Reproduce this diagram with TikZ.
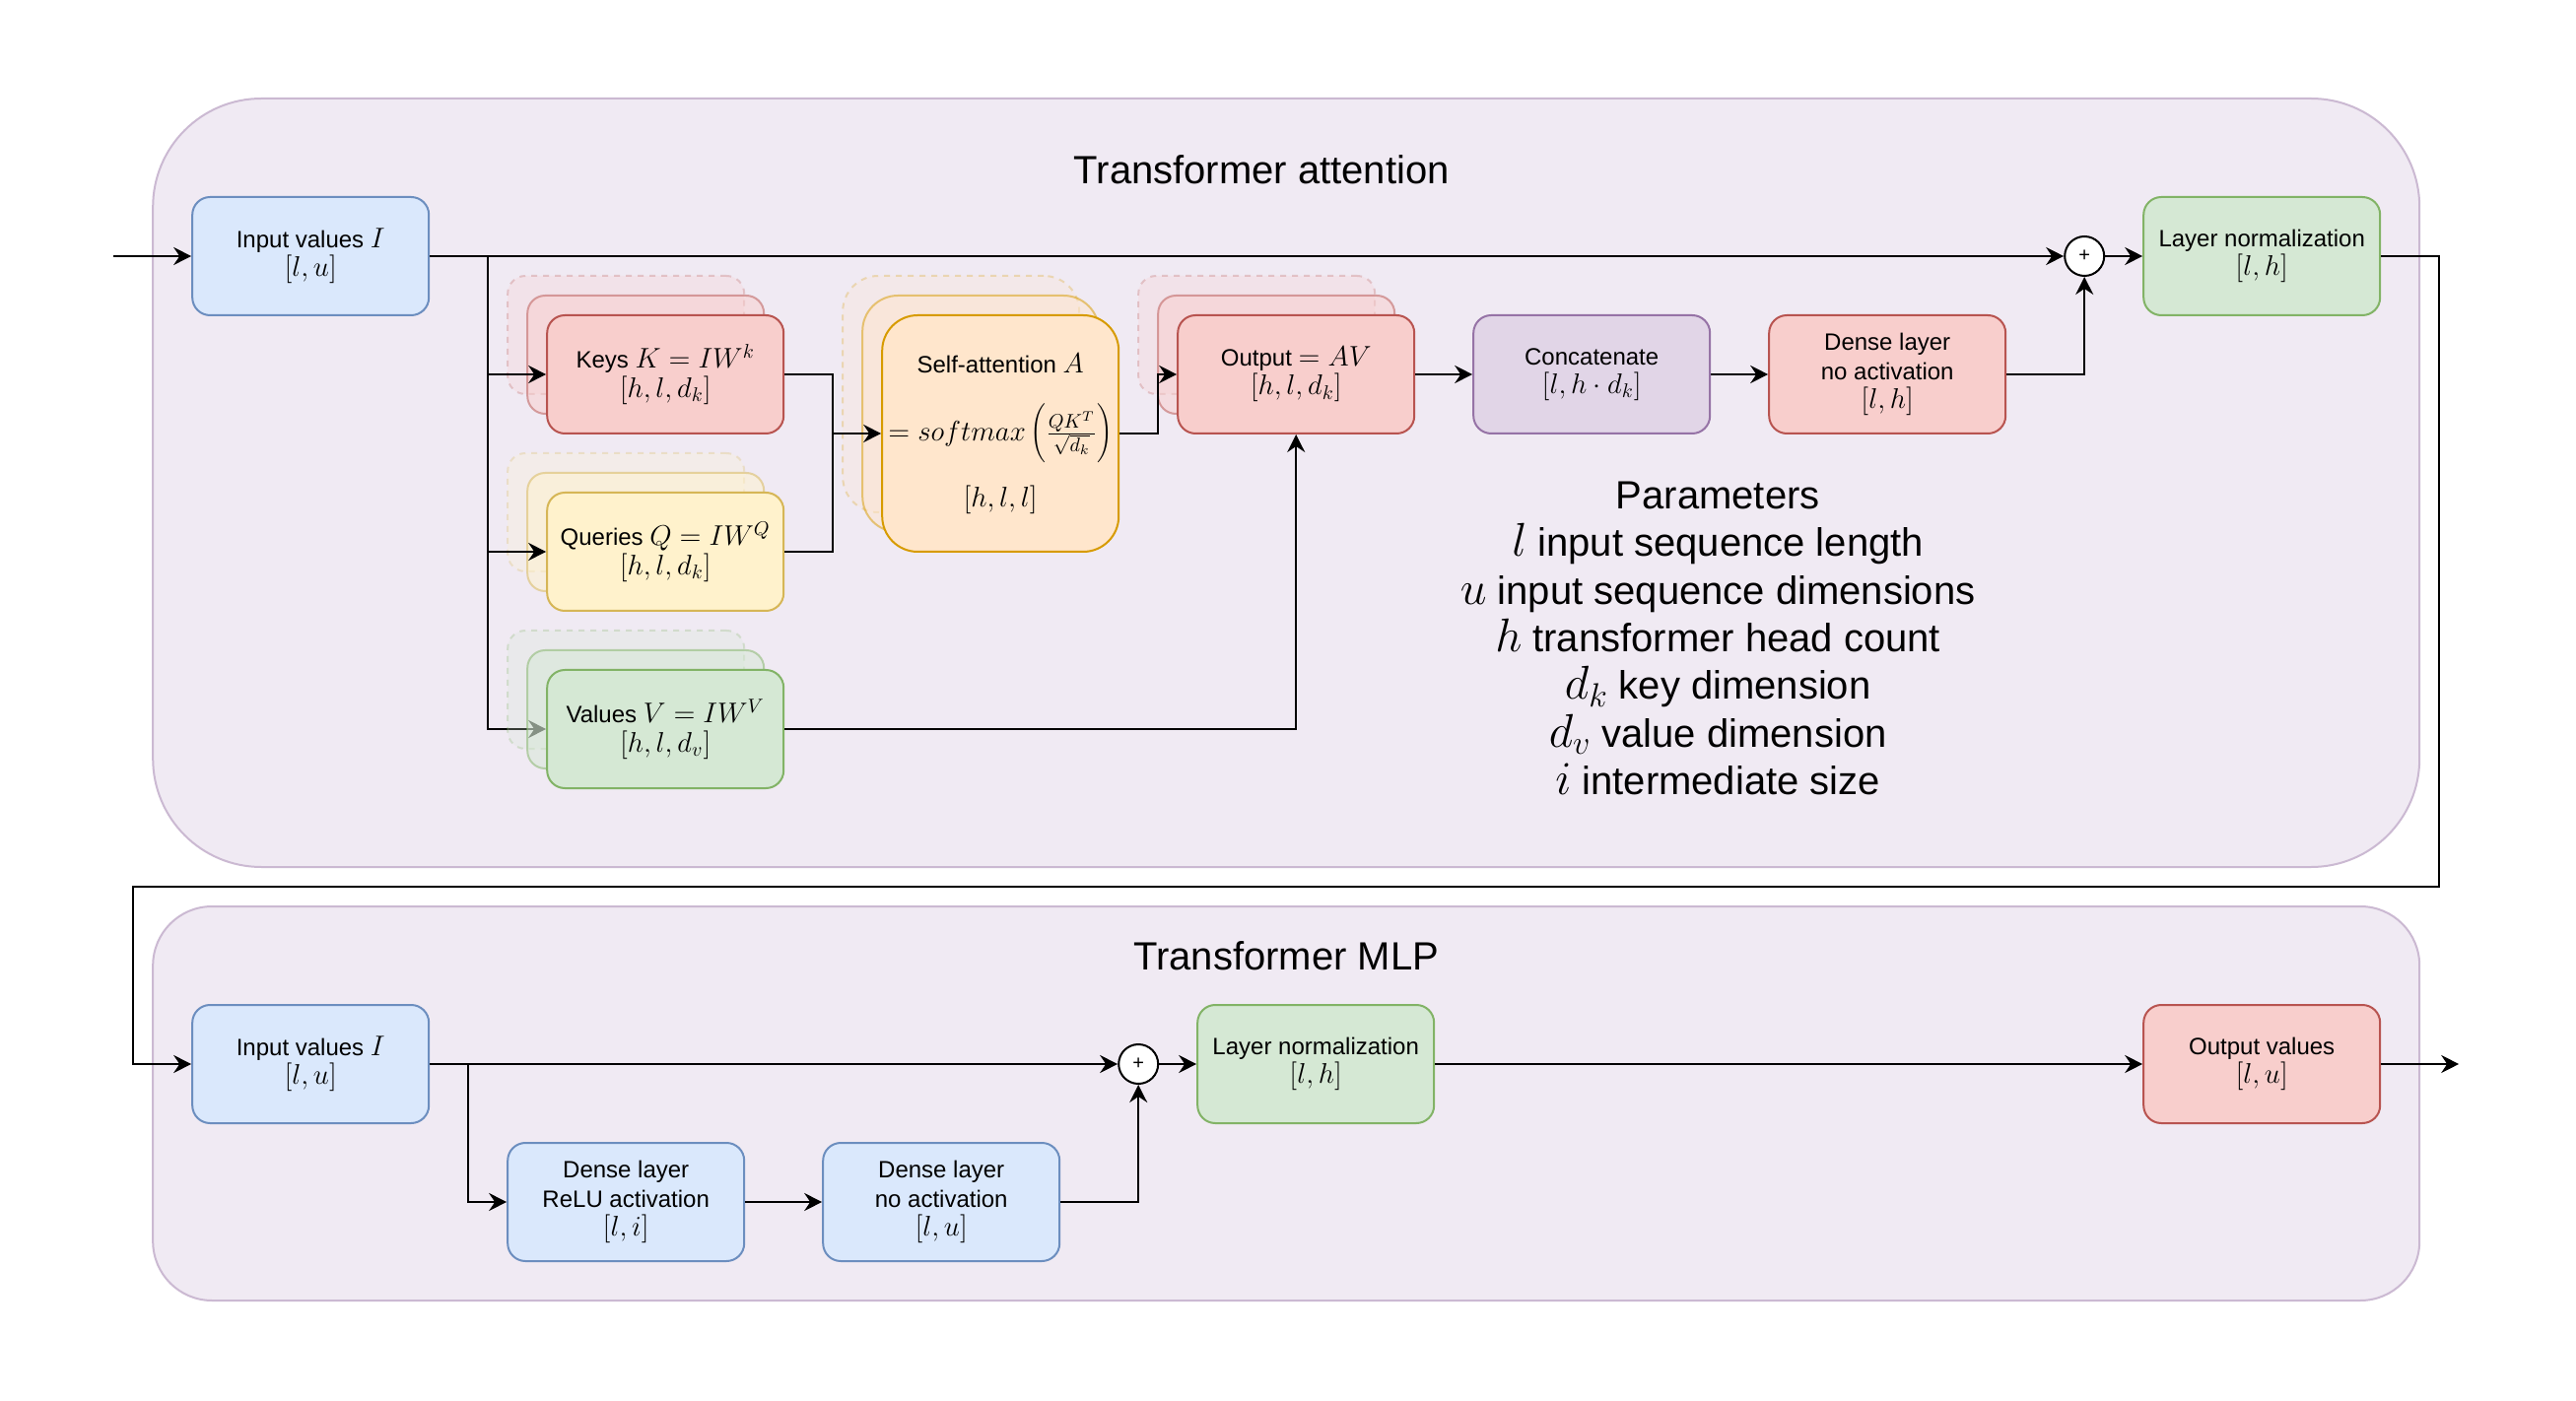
\documentclass[tikz,border=0pt]{standalone}
\usepackage{fix-cm}
\usepackage[no-math]{fontspec}
\setmainfont{Liberation Sans}
\usepackage{tikz}
\usetikzlibrary{arrows.meta, backgrounds, calc}
\DeclareMathSizes{12}{14.4}{10}{7}
\DeclareMathSizes{20}{24}{17}{12}

\definecolor{bluefill}{HTML}{DAE8FC}
\definecolor{blueline}{HTML}{6C8EBF}
\definecolor{redfill}{HTML}{F8CECC}
\definecolor{redline}{HTML}{B85450}
\definecolor{yellowfill}{HTML}{FFF2CC}
\definecolor{yellowline}{HTML}{D6B656}
\definecolor{orangefill}{HTML}{FFE6CC}
\definecolor{orangeline}{HTML}{D79B00}
\definecolor{greenfill}{HTML}{D5E8D4}
\definecolor{greenline}{HTML}{82B366}
\definecolor{purplefill}{HTML}{E1D5E7}
\definecolor{purpleline}{HTML}{9673A6}

\begin{document}
\begin{tikzpicture}[
    x=1pt,
    y=-1pt,
    box/.style={rectangle, rounded corners=9pt, line width=1pt, minimum width=120pt, minimum height=60pt, inner sep=2pt, align=center, font=\fontsize{12}{14.6}\selectfont, execute at begin node={\rule{0pt}{14pt}}},
    bluebox/.style={box, draw=blueline, fill=bluefill},
    redbox/.style={box, draw=redline, fill=redfill},
    yellowbox/.style={box, draw=yellowline, fill=yellowfill},
    orangebox/.style={box, draw=orangeline, fill=orangefill},
    greenbox/.style={box, draw=greenline, fill=greenfill},
    purplebox/.style={box, draw=purpleline, fill=purplefill},
    backcopy/.style={opacity=0.5},
    ghostcopy/.style={opacity=0.25, dashed},
    panel/.style={rectangle, draw=purpleline!50, fill=purplefill!50, line width=1pt, minimum width=1150pt},
    adder/.style={circle, draw, fill=white, line width=1pt, minimum size=20pt, inner sep=0pt, font=\fontsize{10}{10}\selectfont},
    heading/.style={font=\fontsize{20}{24.2}\selectfont},
    wire/.style={line width=1pt},
    link/.style={wire, -{Stealth[length=9pt, width=9pt, inset=3pt]}}
]
\useasboundingbox (2.4, 0) rectangle (1309.4, 711);

% Panels
\begin{pgfonlayer}{background}
\node [panel, minimum height=390pt, rounded corners=55pt] (attn) at (655, 245) {};
\node [panel, minimum height=200pt, rounded corners=30pt] (mlp) at (655, 560) {};
\end{pgfonlayer}
\node [heading] (attnTitle) at (642.5, 86) {Transformer attention};
\node [heading] (mlpTitle) at (655, 485) {Transformer MLP};

% Attention block
\node [bluebox] (input) at (160, 130) {Input values $I$\\$[l,u]$};

\foreach \o/\s in {20/ghostcopy, 10/backcopy} {
    \node [redbox, \s] (keys\o) at (340-\o, 190-\o) {};
    \node [yellowbox, \s] (queries\o) at (340-\o, 280-\o) {};
    \node [greenbox, \s] (values\o) at (340-\o, 370-\o) {};
    \node [orangebox, \s, minimum height=120pt, rounded corners=18pt] (attention\o) at (510-\o, 220-\o) {};
    \node [redbox, \s] (output\o) at (660-\o, 190-\o) {};
}

\node [redbox] (keys) at (340, 190) {Keys $K = IW^k$\\$[h,l,d_k]$};
\node [yellowbox] (queries) at (340, 280) {Queries $Q = IW^Q$\\$[h,l,d_k]$};
\node [greenbox] (values) at (340, 370) {Values $V = IW^V$\\$[h,l,d_v]$};
\node [orangebox, minimum height=120pt, rounded corners=18pt, execute at begin node={}] (attention) at (510, 220) {Self-attention $A$\\[20pt]\smash{\makebox[0pt]{$=softmax\left(\rule[-12pt]{0pt}{32pt}\frac{QK^T}{\sqrt{d_k}}\right)$}}\\[19pt]$[h,l,l]$};
\node [redbox] (output) at (660, 190) {Output $= AV$\\$[h,l,d_k]$};
\node [purplebox] (concat) at (810, 190) {Concatenate\\$[l,h\cdot d_k]$};
\node [redbox] (dense) at (960, 190) {Dense layer\\no activation\\$[l,h]$};
\node [adder] (add1) at (1060, 130) {+};
\node [greenbox] (norm1) at (1150, 130) {Layer normalization\\$[l,h]$};

\node [heading, align=center] (params) at (874, 324) {Parameters\\$l$ input sequence length\\$u$ input sequence dimensions\\$h$ transformer head count\\$d_k$ key dimension\\$d_v$ value dimension\\$i$ intermediate size};

% MLP block
\node [bluebox] (input2) at (160, 540) {Input values $I$\\$[l,u]$};
\node [bluebox] (relu) at (320, 610) {Dense layer\\ReLU activation\\$[l,i]$};
\node [bluebox] (dense2) at (480, 610) {Dense layer\\no activation\\$[l,u]$};
\node [adder] (add2) at (580, 540) {+};
\node [greenbox] (norm2) at (670, 540) {Layer normalization\\$[l,h]$};
\node [redbox] (outvals) at (1150, 540) {Output values\\$[l,u]$};

% Bends
\coordinate (start) at (60, 130);
\coordinate (split) at (250, 130);
\coordinate (merge) at (425, 220);
\coordinate (join) at (590, 190);
\coordinate (turnR) at (1240, 450);
\coordinate (turnL) at (70, 450);
\coordinate (split2) at (240, 540);
\coordinate (finish) at (1250, 540);

% Connectors
\draw [link] (start) -- (input.west);
\draw [link] (input.east) -- (add1.west);
\draw [link] (split) |- (keys.west);
\draw [link] (split) |- (queries.west);
\begin{pgfonlayer}{background}
\draw [link] (split) |- (values.west);
\end{pgfonlayer}
\draw [wire] (keys.east) -| (merge);
\draw [wire] (queries.east) -| (merge);
\draw [link] (merge) -- (attention.west);
\draw [link] (attention.east) -| (join) -- (output.west);
\draw [link] (values.east) -| (output.south);
\draw [link] (output) -- (concat);
\draw [link] (concat) -- (dense);
\draw [link] (dense.east) -| (add1.south);
\draw [link] (add1) -- (norm1);
\draw [link] (norm1.east) -| (turnR) -- (turnL) |- (input2.west);
\draw [link] (input2.east) -- (add2.west);
\draw [link] (split2) |- (relu.west);
\draw [link] (relu) -- (dense2);
\draw [link] (dense2.east) -| (add2.south);
\draw [link] (add2) -- (norm2);
\draw [link] (norm2) -- (outvals);
\draw [link] (outvals.east) -- (finish);

\end{tikzpicture}
\end{document}
